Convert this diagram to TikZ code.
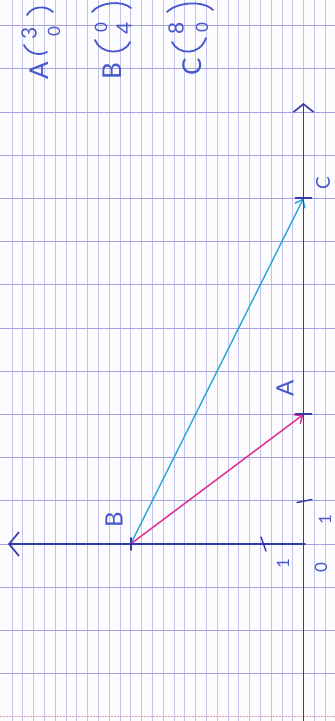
\documentclass[tikz,border=0pt]{standalone}
\usepackage{fontspec}
\setmainfont{Lato}
\usetikzlibrary{arrows.meta}
\definecolor{paper}{RGB}{252,252,254}
\definecolor{vline}{RGB}{196,195,237}
\definecolor{hline}{RGB}{165,162,225}
\definecolor{axisblue}{RGB}{52,58,172}
\definecolor{ink}{RGB}{72,88,205}
\definecolor{magentaink}{RGB}{226,48,150}
\definecolor{cyanink}{RGB}{40,162,216}
\definecolor{marginred}{RGB}{240,150,172}
\begin{document}
\begin{tikzpicture}[x=1pt,y=-1pt,
  axisline/.style={draw=axisblue,line width=1.7pt,line cap=round},
  tickline/.style={draw=axisblue,line width=1.4pt,line cap=round},
  crossline/.style={draw=axisblue,line width=1.9pt,line cap=round},
  vecmag/.style={draw=magentaink,line width=1.5pt,-{Straight Barb[length=7pt,width=11pt,line width=1.5pt]}},
  veccyan/.style={draw=cyanink,line width=1.3pt,-{Straight Barb[length=7pt,width=11pt,line width=1.5pt]}},
  ptlabel/.style={text=ink,rotate=90,inner sep=0pt,font=\fontsize{24}{24}\selectfont},
  ticklabel/.style={text=ink,rotate=90,inner sep=0pt,font=\fontsize{17}{17}\selectfont},
  letterlabel/.style={text=ink,rotate=90,inner sep=0pt,font=\fontsize{26}{26}\selectfont},
  entrylabel/.style={text=ink,rotate=90,inner sep=0pt,font=\fontsize{21}{21}\selectfont},
  smallentry/.style={text=ink,rotate=90,inner sep=0pt,font=\fontsize{17}{17}\selectfont},
  paren/.style={draw=ink,line width=1.8pt,line cap=round}
]
\fill[paper] (0,0) rectangle (335,721);
\useasboundingbox (0,0) rectangle (335,721);
% grid
\foreach \j in {0,...,29}
  \draw[vline,line width=0.8pt] ({11.9+10.8*\j},0) -- ({11.9+10.8*\j},721);
\foreach \i in {0,...,15}
  \draw[hline,line width=1pt] (0,{25.6+43.2*\i}) -- (335,{25.6+43.2*\i});
\draw[marginred,line width=1.1pt,dash pattern=on 2pt off 1pt] (0,716.8) -- (335,716.8);

% axes
\coordinate (ybot) at (303.5,721);
\coordinate (ytop) at (303.5,103);
\coordinate (xright) at (305,544);
\coordinate (xleft) at (8,544);
\draw[axisline,-{Straight Barb[length=8pt,width=20pt,line width=1.6pt]}] (ybot) -- (ytop);
\draw[axisline,-{Straight Barb[length=10pt,width=24pt,line width=1.6pt]}] (xright) -- (xleft);

% ticks
\coordinate (ty1) at (297,502.5);
\coordinate (ty2) at (312,499.5);
\draw[tickline] (ty1) -- (ty2);
\coordinate (tx1) at (261,537);
\coordinate (tx2) at (266,551);
\draw[tickline] (tx1) -- (tx2);
\node[ticklabel] (oneY) at (325,520) {1};
\node[ticklabel] (oneX) at (283,564) {1};
\node[ticklabel] (zero) at (321,568) {0};

% points
\coordinate (A) at (303.5,414.4);
\coordinate (C) at (303.5,198.4);
\coordinate (B) at (130.7,544);

% vectors
\draw[veccyan] (B) -- (C);
\draw[vecmag] (B) -- (A);

% point marks (crosses)
\draw[crossline] (A) ++(-8,0) -- ++(16,0) (A) ++(0,-7) -- ++(0,14);
\draw[crossline] (C) ++(-8,0) -- ++(16,0) (C) ++(0,-7) -- ++(0,14);
\draw[crossline] (B) ++(-7,0) -- ++(14,0) (B) ++(0,-6) -- ++(0,12);

% point labels
\node[ptlabel] (lA) at (285,388) {A};
\node[ptlabel,font=\fontsize{19}{19}\selectfont] (lC) at (323,183) {C};
\node[ptlabel] (lB) at (114,520) {B};

% coordinates written at the top
\node[letterlabel] (cA) at (39,71) {A};
\node[entrylabel] (cA1) at (29,33) {3};
\node[smallentry] (cA2) at (54,32) {0};
\draw[paren] (27,15) .. controls (32,6) and (46,5) .. (53,12);
\draw[paren] (24,45) .. controls (28,54) and (40,56) .. (47,52);

\node[letterlabel] (cB) at (112,71) {B};
\node[smallentry] (cB1) at (101,28) {0};
\node[entrylabel] (cB2) at (124,28) {4};
\draw[paren] (92,12) .. controls (100,2) and (122,0) .. (131,8);
\draw[paren] (95,40) .. controls (100,54) and (124,56) .. (130,42);

\node[letterlabel] (cC) at (192,67) {C};
\node[entrylabel] (cC1) at (176,28) {8};
\node[smallentry] (cC2) at (202,28) {0};
\draw[paren] (167,12) .. controls (177,2) and (203,0) .. (213,10);
\draw[paren] (172,42) .. controls (178,55) and (200,56) .. (206,38);
\end{tikzpicture}
\end{document}
